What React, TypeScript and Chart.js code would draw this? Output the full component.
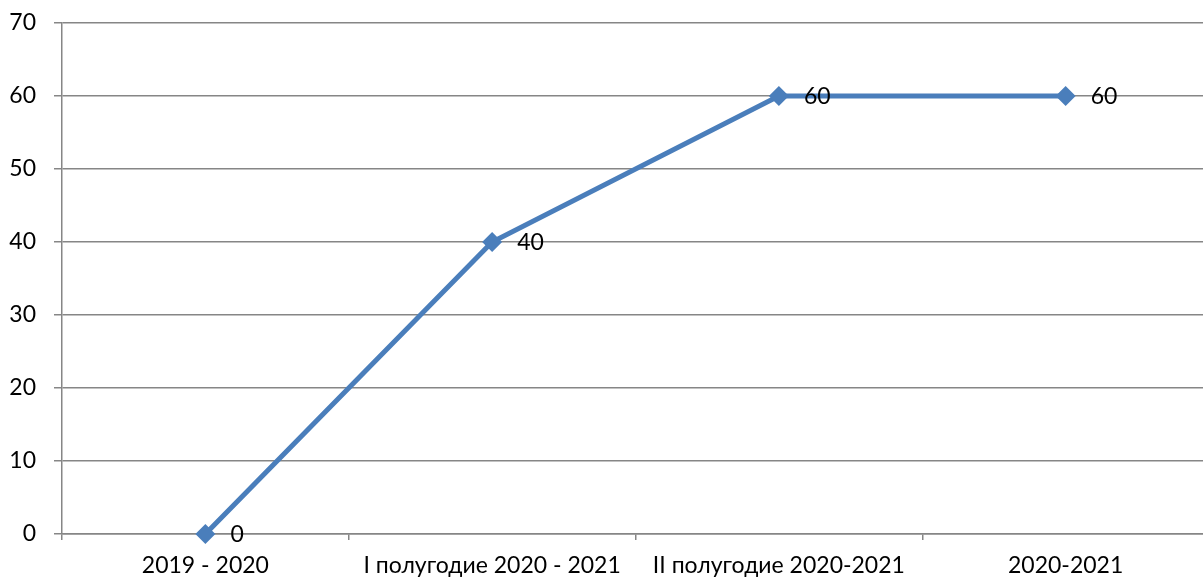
import React, { useEffect, useRef } from "react";
import { Chart, registerables } from "chart.js";

Chart.register(...registerables);

const categories = ["2019 - 2020", "I полугодие 2020 - 2021", "II полугодие 2020-2021", "2020-2021"];
const values = [0, 40, 60, 60];
const yTicks = [0, 10, 20, 30, 40, 50, 60, 70];

const FONT = "Lato, 'Open Sans', sans-serif";
const FONT_SIZE = 23;
const LINE_COLOR = "#4A7EBB";
const GRID_COLOR = "#868686";

const dataLabelPlugin = {
  id: "pointLabels",
  afterDatasetsDraw(chart: any) {
    const ctx = chart.ctx;
    const meta = chart.getDatasetMeta(0);
    ctx.save();
    ctx.font = `${FONT_SIZE}px ${FONT}`;
    ctx.fillStyle = "#000";
    ctx.textAlign = "left";
    ctx.textBaseline = "middle";
    meta.data.forEach((el: any, i: number) => {
      ctx.fillText(String(values[i]), el.x + 25, el.y + 1);
    });
    ctx.restore();
  },
};

export default function App() {
  const ref = useRef<HTMLCanvasElement>(null);
  useEffect(() => {
    document.body.style.margin = "0";
    const chart = new Chart(ref.current!, {
      type: "line",
      data: {
        labels: categories,
        datasets: [
          {
            data: values,
            borderColor: LINE_COLOR,
            backgroundColor: LINE_COLOR,
            borderWidth: 5,
            pointStyle: "rectRot",
            pointRadius: 10,
            pointBorderWidth: 0,
            pointBackgroundColor: LINE_COLOR,
            tension: 0,
            clip: false,
          },
        ],
      },
      options: {
        responsive: false,
        animation: false,
        layout: { autoPadding: false, padding: { top: 23, right: 0, left: 0, bottom: 0 } },
        plugins: { legend: { display: false }, tooltip: { enabled: false } },
        scales: {
          x: {
            offset: true,
            grid: {
              offset: true,
              drawOnChartArea: false,
              color: GRID_COLOR,
              tickLength: 6,
              lineWidth: 1.5,
            },
            border: { color: GRID_COLOR, width: 1.5 },
            ticks: {
              color: "#000",
              font: { family: FONT, size: FONT_SIZE },
              padding: 12,
              maxRotation: 0,
              autoSkip: false,
            },
            afterFit(scale: any) {
              scale.height = 48;
              scale.paddingLeft = 0;
              scale.paddingRight = 0;
            },
          },
          y: {
            min: 0,
            max: 70,
            afterBuildTicks(scale: any) {
              scale.ticks = yTicks.map((v) => ({ value: v }));
            },
            grid: {
              color: GRID_COLOR,
              tickLength: 8,
              lineWidth: 1.5,
            },
            border: { color: GRID_COLOR, width: 1.5 },
            ticks: {
              color: "#000",
              font: { family: FONT, size: FONT_SIZE },
              padding: 18,
            },
            afterFit(scale: any) {
              scale.width = 62;
              scale.paddingTop = 0;
              scale.paddingBottom = 0;
            },
          },
        },
      },
      plugins: [dataLabelPlugin],
    });
    return () => chart.destroy();
  }, []);
  return (
    <div style={{ position: "absolute", left: 0, top: 0, width: 1203, height: 582, overflow: "hidden", background: "#fff" }}>
      <canvas ref={ref} width={1209} height={582} style={{ display: "block" }} />
    </div>
  );
}
